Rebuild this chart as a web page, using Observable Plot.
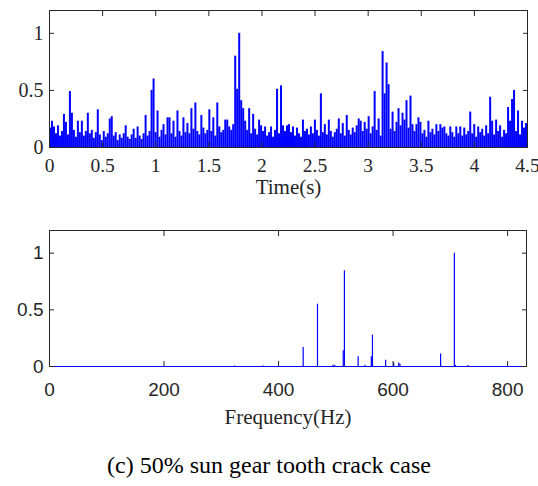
<!DOCTYPE html>
<html><head><meta charset="utf-8">
<script src="https://cdn.jsdelivr.net/npm/d3@7"></script>
<script src="https://cdn.jsdelivr.net/npm/@observablehq/plot@0.6"></script>
<style>
body{margin:0;background:#fff;width:538px;}
svg{display:block}
#caption{font-family:"Liberation Serif",serif;font-size:24px;text-align:center;line-height:30px;margin-top:14px;color:#000;}
</style></head><body><div id="chart"></div><div id="caption">(c) 50% sun gear tooth crack case</div>
<script>
// time-domain signal, one sample every timeStep seconds
const timeStep = 0.01875;
const timeAmplitude = [
  0.17,0.23,0.18,0.12,0.19,0.10,0.14,0.29,0.22,0.11,
  0.49,0.30,0.15,0.09,0.23,0.13,0.23,0.10,0.14,0.30,
  0.12,0.15,0.08,0.13,0.33,0.11,0.06,0.14,0.09,0.12,
  0.25,0.27,0.10,0.13,0.06,0.11,0.08,0.12,0.19,0.09,
  0.07,0.11,0.16,0.08,0.18,0.10,0.07,0.12,0.28,0.10,
  0.14,0.50,0.60,0.13,0.32,0.09,0.15,0.20,0.11,0.26,
  0.26,0.12,0.23,0.09,0.32,0.14,0.10,0.26,0.13,0.21,
  0.12,0.34,0.16,0.39,0.14,0.11,0.28,0.17,0.12,0.15,
  0.33,0.14,0.26,0.10,0.39,0.18,0.13,0.15,0.24,0.24,
  0.18,0.15,0.20,0.80,0.51,1.00,0.41,0.34,0.23,0.15,
  0.34,0.12,0.29,0.16,0.11,0.24,0.19,0.14,0.18,0.10,
  0.13,0.18,0.09,0.15,0.51,0.12,0.54,0.19,0.14,0.19,
  0.20,0.13,0.18,0.10,0.17,0.12,0.09,0.24,0.14,0.16,
  0.11,0.18,0.12,0.24,0.15,0.10,0.47,0.13,0.20,0.11,
  0.24,0.14,0.09,0.13,0.16,0.25,0.12,0.21,0.10,0.28,
  0.15,0.11,0.17,0.13,0.19,0.25,0.23,0.14,0.22,0.16,
  0.27,0.12,0.18,0.49,0.15,0.25,0.10,0.84,0.47,0.74,
  0.55,0.16,0.31,0.14,0.22,0.34,0.19,0.30,0.24,0.41,
  0.17,0.45,0.20,0.14,0.20,0.26,0.22,0.12,0.15,0.09,
  0.23,0.13,0.16,0.11,0.20,0.14,0.20,0.17,0.18,0.12,
  0.10,0.18,0.13,0.09,0.18,0.12,0.18,0.10,0.17,0.11,
  0.14,0.31,0.12,0.20,0.09,0.18,0.13,0.16,0.10,0.19,
  0.12,0.44,0.23,0.11,0.24,0.14,0.19,0.09,0.15,0.12,
  0.35,0.23,0.42,0.50,0.14,0.32,0.11,0.23,0.17,0.21
];
const timeTicks = [0,0.5,1,1.5,2,2.5,3,3.5,4,4.5];
const ampTicks = [0,0.5,1];

// spectrum peaks (estimated)
const specFreq = [323,373,443,468,495,498,513,515,539,551,562,564,587,601,610,612,683,707,709,731];
const specAmp  = [0.005,0.005,0.168,0.55,0.012,0.01,0.14,0.845,0.085,0.01,0.085,0.277,0.056,0.03,0.03,0.02,0.11,1.0,0.01,0.008];
const freqTicks = [0,200,400,600,800];

const BLUE = "#0000ff", AX = "#262626";
const serif = "Liberation Serif", sans = "Liberation Sans";

const timeData = timeAmplitude.map((v, i) => ({t0: i * timeStep, t1: (i + 1) * timeStep, v}));
const specData = specFreq.map((f, i) => ({f, a: specAmp[i]}));

const topPlot = Plot.plot({
  width: 538, height: 210, marginLeft: 49, marginRight: 11, marginTop: 10, marginBottom: 63,
  style: {color: AX, background: "white", overflow: "visible"},
  x: {domain: [0, 4.5]}, y: {domain: [0, 1.2]},
  marks: [
    Plot.rect(timeData, {x1: "t0", x2: "t1", y1: 0, y2: "v", fill: BLUE}),
    Plot.frame({stroke: AX}),
    Plot.axisX(timeTicks, {anchor: "bottom", tickSize: -5, tickPadding: 16, tickFormat: d => String(d), fontSize: 19.5, fontFamily: serif, label: null}),
    Plot.axisX(timeTicks, {anchor: "top", tickSize: -5, tickFormat: () => "", label: null}),
    Plot.axisY(ampTicks, {anchor: "left", tickSize: -5, tickPadding: 11, tickFormat: d => String(d), fontSize: 20, fontFamily: serif, label: null}),
    Plot.axisY(ampTicks, {anchor: "right", tickSize: -5, tickFormat: () => "", label: null}),
    Plot.text(["Time(s)"], {frameAnchor: "bottom", dy: 46, fontSize: 21, fontFamily: serif, fill: AX})
  ]
});

const bottomPlot = Plot.plot({
  width: 538, height: 226, marginLeft: 49, marginRight: 12, marginTop: 20, marginBottom: 70,
  style: {color: AX, background: "white", overflow: "visible"},
  x: {domain: [0, 833]}, y: {domain: [0, 1.2]},
  marks: [
    Plot.ruleX(specData, {x: "f", y1: 0, y2: "a", stroke: BLUE, strokeWidth: 1.2}),
    Plot.frame({stroke: AX}),
    Plot.ruleY([0], {stroke: BLUE, strokeWidth: 1.2}),
    Plot.axisX(freqTicks, {anchor: "bottom", tickSize: -5, tickPadding: 21, tickFormat: d => String(d), fontSize: 19, fontFamily: sans, label: null}),
    Plot.axisX(freqTicks, {anchor: "top", tickSize: -5, tickFormat: () => "", label: null}),
    Plot.axisY(ampTicks, {anchor: "left", tickSize: -5, tickPadding: 11, tickFormat: d => String(d), fontSize: 19, fontFamily: sans, label: null}),
    Plot.axisY(ampTicks, {anchor: "right", tickSize: -5, tickFormat: () => "", label: null}),
    Plot.text(["Frequency(Hz)"], {frameAnchor: "bottom", dy: 57, fontSize: 21, fontFamily: serif, fill: AX})
  ]
});

const c = document.getElementById("chart");
c.appendChild(topPlot);
c.appendChild(bottomPlot);
</script></body></html>
